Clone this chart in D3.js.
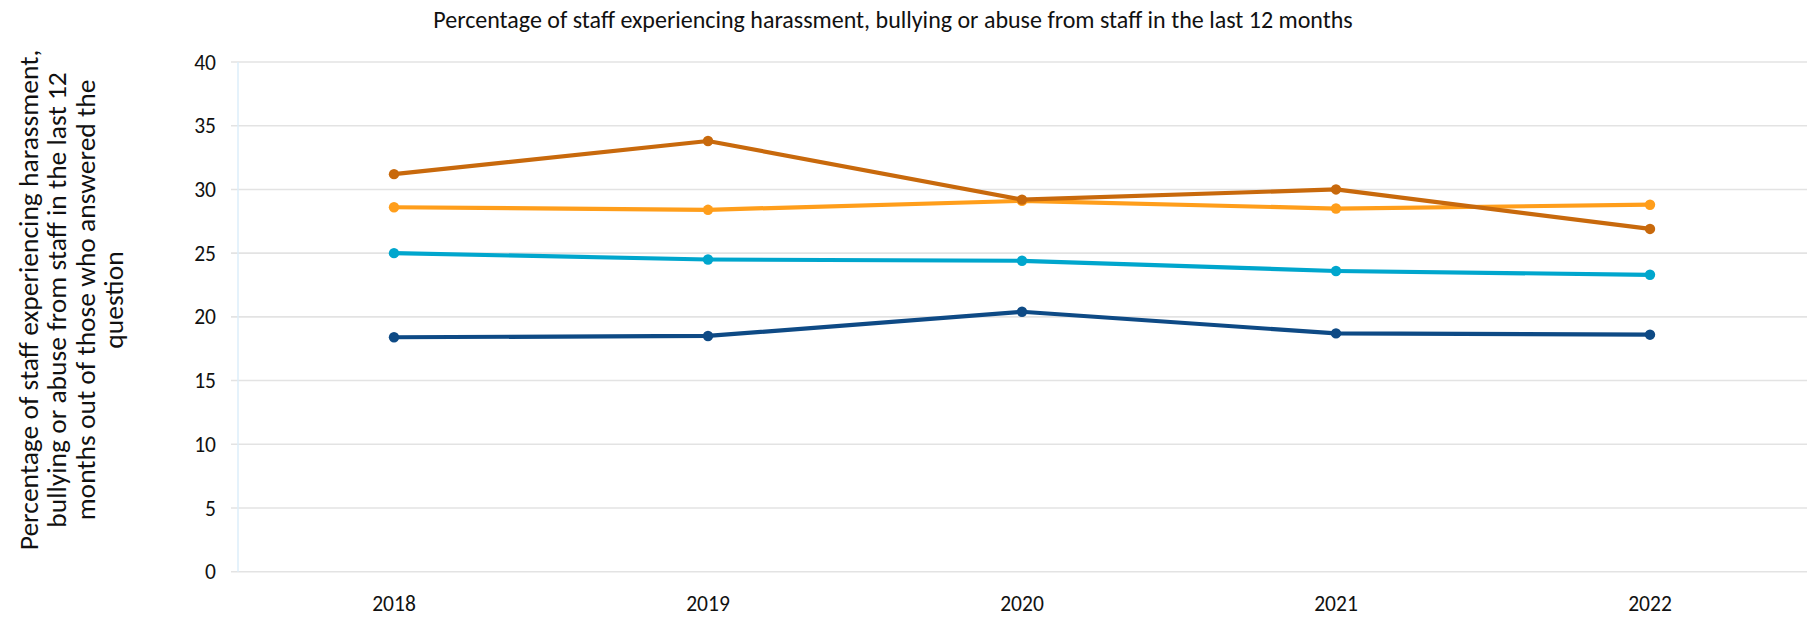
<!DOCTYPE html>
<html>
<head>
<meta charset="utf-8">
<script src="https://cdn.jsdelivr.net/npm/d3@7"></script>
<style>
  body { margin: 0; background: #fff; }
  svg text { font-family: Carlito, "Liberation Sans Narrow", Lato, sans-serif; fill: #111; }
</style>
</head>
<body>
<svg id="chart" width="1813" height="621"></svg>
<script>
/*=====================================================================
 data
======================================================================*/
var years = ["2018", "2019", "2020", "2021", "2022"];
var yTicks = [0, 5, 10, 15, 20, 25, 30, 35, 40];

var seriesDarkOrange = [31.2, 33.8, 29.2, 30.0, 26.9];
var seriesLightOrange = [28.6, 28.4, 29.1, 28.5, 28.8];
var seriesCyan = [25.0, 24.5, 24.4, 23.6, 23.3];
var seriesNavy = [18.4, 18.5, 20.4, 18.7, 18.6];

var seriesList = [
    { values: seriesNavy, color: "#0e4a85" },
    { values: seriesCyan, color: "#00a6cd" },
    { values: seriesLightOrange, color: "#ff9e1b" },
    { values: seriesDarkOrange, color: "#c8690c" }
];

var titleText = "Percentage of staff experiencing harassment, bullying or abuse from staff in the last 12 months";
var yTitleLines = [
    "Percentage of staff experiencing harassment,",
    "bullying or abuse from staff in the last 12",
    "months out of those who answered the",
    "question"
];

/*=====================================================================
 layout
======================================================================*/
var margin = { left: 237, right: 6, top: 62, bottom: 49 };
var width = 1813, height = 621;

var svg = d3.select("#chart");

var x = d3.scalePoint()
    .domain(years)
    .range([margin.left, width - margin.right])
    .padding(0.5);

var y = d3.scaleLinear()
    .domain([0, 40])
    .range([height - margin.bottom - 0.3, margin.top]);

// gridlines
svg.append("g")
    .selectAll("line")
    .data(yTicks)
    .join("line")
    .attr("x1", margin.left - 6)
    .attr("x2", width - margin.right)
    .attr("y1", function (d) { return y(d); })
    .attr("y2", function (d) { return y(d); })
    .attr("stroke", "#e3e3e3")
    .attr("stroke-width", 1.6);

// left axis line
svg.append("line")
    .attr("x1", margin.left + 1)
    .attr("x2", margin.left + 1)
    .attr("y1", y(40))
    .attr("y2", y(0))
    .attr("stroke", "#ddeefa")
    .attr("stroke-width", 1.5);

// y tick labels
svg.append("g")
    .selectAll("text")
    .data(yTicks)
    .join("text")
    .attr("x", 216)
    .attr("y", function (d) { return y(d); })
    .attr("dy", "0.35em")
    .attr("text-anchor", "end")
    .style("font-size", "21.5px")
    .text(function (d) { return d; });

// x tick labels
svg.append("g")
    .selectAll("text")
    .data(years)
    .join("text")
    .attr("x", function (d) { return x(d); })
    .attr("y", 603)
    .attr("dy", "0.35em")
    .attr("text-anchor", "middle")
    .style("font-size", "21.5px")
    .text(function (d) { return d; });

// title
svg.append("text")
    .attr("x", 893)
    .attr("y", 20)
    .attr("dy", "0.35em")
    .attr("text-anchor", "middle")
    .style("font-size", "24px")
    .text(titleText);

// y axis title
var yTitle = svg.append("text")
    .attr("transform", "translate(0,300) rotate(-90)")
    .attr("text-anchor", "middle")
    .style("font-size", "27.5px");

yTitle.selectAll("tspan")
    .data(yTitleLines)
    .join("tspan")
    .attr("x", 0)
    .attr("y", function (d, i) { return 28 + i * 28.5; })
    .attr("dy", "0.35em")
    .text(function (d) { return d; });

/*=====================================================================
 lines
======================================================================*/
var line = d3.line()
    .x(function (d, i) { return x(years[i]); })
    .y(function (d) { return y(d); });

seriesList.forEach(function (s) {
    var g = svg.append("g");
    g.append("path")
        .datum(s.values)
        .attr("d", line)
        .attr("fill", "none")
        .attr("stroke", s.color)
        .attr("stroke-width", 4.2)
        .attr("stroke-linejoin", "round");
    g.selectAll("circle")
        .data(s.values)
        .join("circle")
        .attr("cx", function (d, i) { return x(years[i]); })
        .attr("cy", function (d) { return y(d); })
        .attr("r", 5.2)
        .attr("fill", s.color);
});
</script>
</body>
</html>
